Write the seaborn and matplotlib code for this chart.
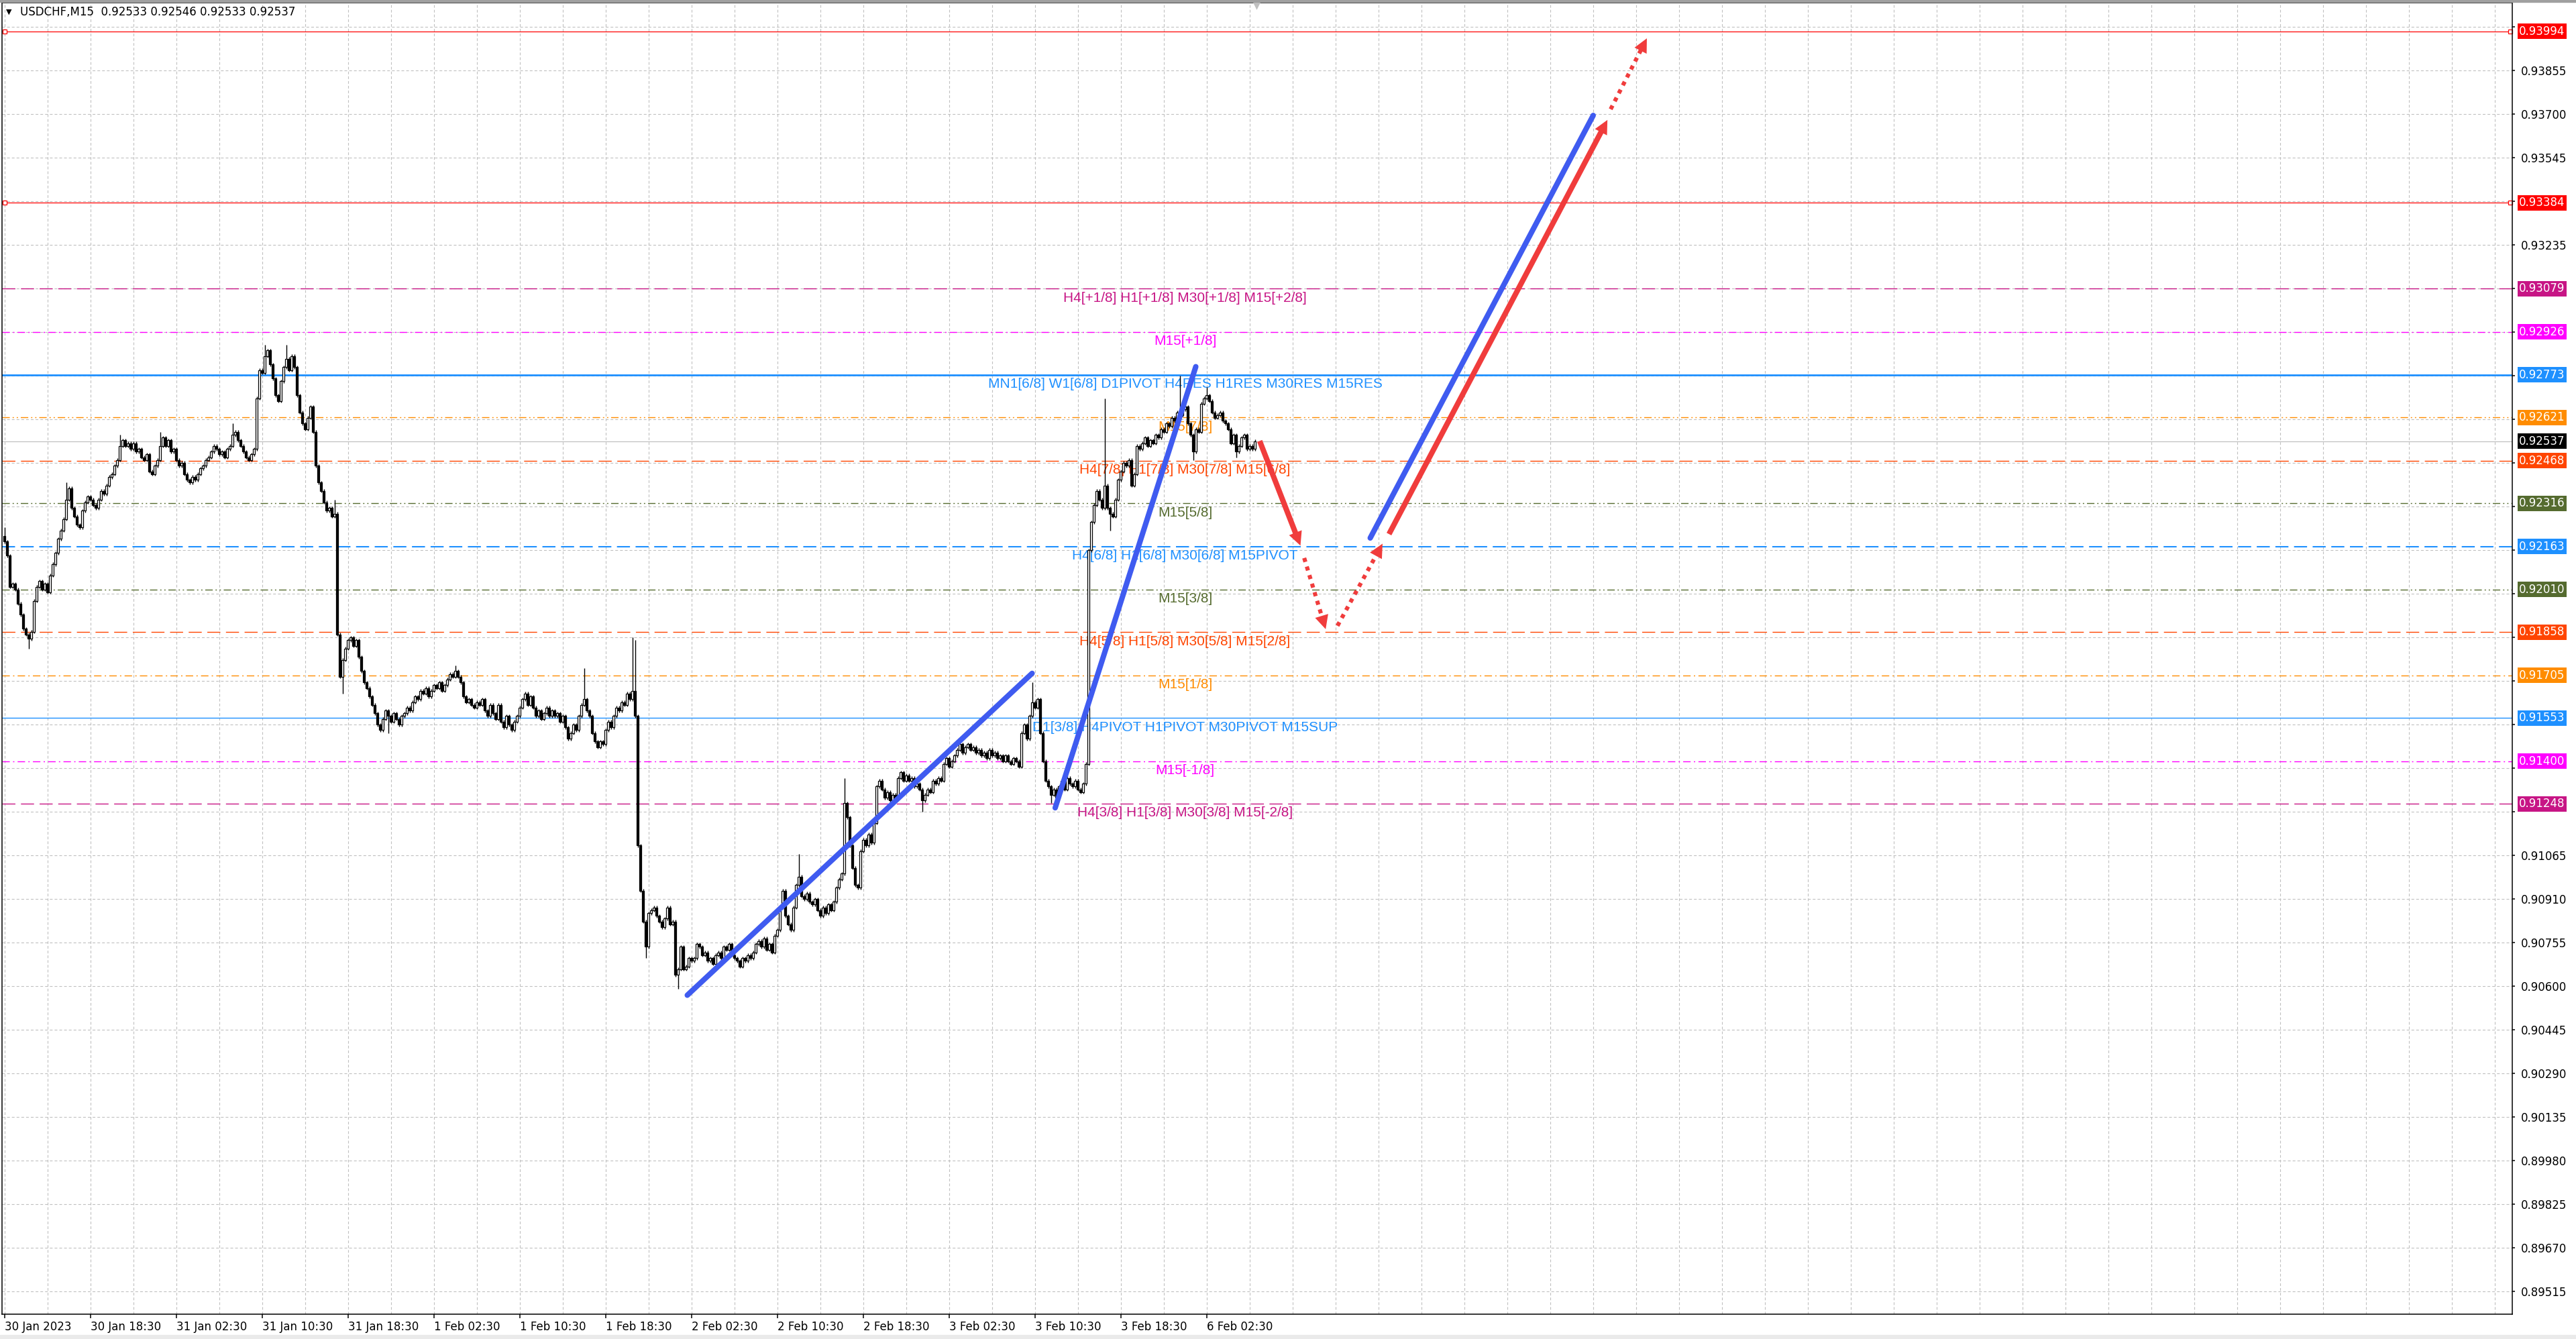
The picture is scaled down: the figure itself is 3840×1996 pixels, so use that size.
import numpy as np
import pandas as pd
import seaborn as sns
import matplotlib.pyplot as plt
import matplotlib.transforms as mtransforms
from matplotlib.patches import Rectangle

sns.set_theme(style="white")
plt.rcParams['font.family'] = ['DejaVu Sans']
plt.rcParams['lines.scale_dashes'] = False

# ---- data (USDCHF M15, bar 0 = 30 Jan 10:30) ----
closes = [
    0.92180, 0.92130, 0.92020, 0.92030, 0.92010, 0.91960, 0.91920, 0.91870, 0.91850, 0.91835, 0.91860, 0.91970, 0.92020, 0.92040, 0.92010, 0.92030,
    0.92000, 0.92060, 0.92100, 0.92140, 0.92190, 0.92220, 0.92260, 0.92330, 0.92370, 0.92300, 0.92270, 0.92240, 0.92230, 0.92290, 0.92320, 0.92340,
    0.92330, 0.92310, 0.92300, 0.92330, 0.92360, 0.92350, 0.92380, 0.92410, 0.92420, 0.92450, 0.92470, 0.92520, 0.92540, 0.92520, 0.92530, 0.92510,
    0.92530, 0.92500, 0.92510, 0.92480, 0.92470, 0.92490, 0.92430, 0.92420, 0.92450, 0.92470, 0.92520, 0.92550, 0.92520, 0.92540, 0.92500, 0.92510,
    0.92470, 0.92450, 0.92460, 0.92420, 0.92400, 0.92390, 0.92410, 0.92400, 0.92420, 0.92440, 0.92450, 0.92470, 0.92480, 0.92500, 0.92520, 0.92510,
    0.92490, 0.92500, 0.92480, 0.92510, 0.92520, 0.92560, 0.92570, 0.92540, 0.92520, 0.92500, 0.92480, 0.92470, 0.92490, 0.92510, 0.92690, 0.92790,
    0.92780, 0.92840, 0.92860, 0.92810, 0.92760, 0.92700, 0.92680, 0.92750, 0.92800, 0.92830, 0.92790, 0.92840, 0.92800, 0.92700, 0.92640, 0.92600,
    0.92580, 0.92620, 0.92660, 0.92570, 0.92450, 0.92390, 0.92360, 0.92320, 0.92290, 0.92300, 0.92270, 0.92280, 0.91850, 0.91700, 0.91760, 0.91800,
    0.91830, 0.91840, 0.91810, 0.91830, 0.91770, 0.91720, 0.91680, 0.91660, 0.91630, 0.91600, 0.91570, 0.91530, 0.91510, 0.91550, 0.91580, 0.91560,
    0.91540, 0.91570, 0.91550, 0.91530, 0.91560, 0.91570, 0.91590, 0.91580, 0.91610, 0.91630, 0.91620, 0.91650, 0.91640, 0.91660, 0.91630, 0.91650,
    0.91670, 0.91660, 0.91680, 0.91650, 0.91670, 0.91690, 0.91710, 0.91700, 0.91720, 0.91700, 0.91680, 0.91630, 0.91610, 0.91620, 0.91600, 0.91590,
    0.91610, 0.91600, 0.91620, 0.91580, 0.91560, 0.91600, 0.91570, 0.91550, 0.91600, 0.91540, 0.91520, 0.91560, 0.91530, 0.91510, 0.91540, 0.91560,
    0.91590, 0.91620, 0.91640, 0.91600, 0.91630, 0.91590, 0.91560, 0.91580, 0.91550, 0.91570, 0.91590, 0.91560, 0.91580, 0.91560, 0.91570, 0.91540,
    0.91560, 0.91520, 0.91480, 0.91500, 0.91530, 0.91510, 0.91560, 0.91600, 0.91620, 0.91580, 0.91560, 0.91500, 0.91470, 0.91450, 0.91470, 0.91460,
    0.91510, 0.91540, 0.91520, 0.91560, 0.91590, 0.91580, 0.91610, 0.91600, 0.91640, 0.91620, 0.91650, 0.91560, 0.91100, 0.90940, 0.90830, 0.90740,
    0.90860, 0.90870, 0.90880, 0.90850, 0.90830, 0.90810, 0.90840, 0.90880, 0.90820, 0.90830, 0.90640, 0.90660, 0.90740, 0.90660, 0.90670, 0.90700,
    0.90690, 0.90700, 0.90750, 0.90740, 0.90710, 0.90720, 0.90690, 0.90700, 0.90680, 0.90710, 0.90720, 0.90700, 0.90740, 0.90730, 0.90750, 0.90710,
    0.90700, 0.90690, 0.90670, 0.90700, 0.90690, 0.90710, 0.90700, 0.90720, 0.90750, 0.90760, 0.90740, 0.90770, 0.90730, 0.90750, 0.90720, 0.90780,
    0.90800, 0.90880, 0.90940, 0.90850, 0.90820, 0.90800, 0.90880, 0.90960, 0.90990, 0.90920, 0.90910, 0.90930, 0.90900, 0.90890, 0.90910, 0.90870,
    0.90850, 0.90880, 0.90860, 0.90890, 0.90870, 0.90900, 0.90950, 0.90980, 0.91000, 0.91250, 0.91200, 0.91100, 0.91020, 0.90960, 0.90950, 0.91080,
    0.91120, 0.91100, 0.91140, 0.91110, 0.91180, 0.91310, 0.91330, 0.91300, 0.91270, 0.91290, 0.91260, 0.91280, 0.91270, 0.91340, 0.91360, 0.91330,
    0.91350, 0.91330, 0.91340, 0.91310, 0.91320, 0.91300, 0.91260, 0.91280, 0.91300, 0.91290, 0.91330, 0.91320, 0.91340, 0.91330, 0.91390, 0.91410,
    0.91380, 0.91400, 0.91420, 0.91440, 0.91460, 0.91430, 0.91450, 0.91460, 0.91440, 0.91450, 0.91430, 0.91440, 0.91420, 0.91430, 0.91410, 0.91440,
    0.91420, 0.91430, 0.91410, 0.91420, 0.91400, 0.91420, 0.91400, 0.91390, 0.91410, 0.91400, 0.91380, 0.91500, 0.91530, 0.91480, 0.91560, 0.91610,
    0.91590, 0.91620, 0.91500, 0.91400, 0.91330, 0.91310, 0.91280, 0.91300, 0.91270, 0.91310, 0.91330, 0.91300, 0.91340, 0.91320, 0.91310, 0.91330,
    0.91300, 0.91290, 0.91320, 0.91390, 0.92150, 0.92250, 0.92310, 0.92360, 0.92330, 0.92300, 0.92380, 0.92300, 0.92280, 0.92270, 0.92330, 0.92400,
    0.92430, 0.92460, 0.92450, 0.92470, 0.92380, 0.92420, 0.92520, 0.92510, 0.92530, 0.92550, 0.92520, 0.92540, 0.92530, 0.92560, 0.92550, 0.92580,
    0.92570, 0.92600, 0.92590, 0.92620, 0.92610, 0.92640, 0.92630, 0.92650, 0.92660, 0.92600, 0.92560, 0.92500, 0.92580, 0.92570, 0.92670, 0.92690,
    0.92700, 0.92680, 0.92640, 0.92620, 0.92630, 0.92640, 0.92610, 0.92600, 0.92580, 0.92530, 0.92560, 0.92500, 0.92520, 0.92550, 0.92560, 0.92510,
    0.92520, 0.92510, 0.92537,
]
first_open = 0.92200
spike_hi = {0: 0.92230, 23: 0.92390, 43: 0.92560, 58: 0.92570, 85: 0.92600, 97: 0.92880,
            105: 0.92880, 123: 0.92330, 168: 0.91740, 216: 0.91730, 234: 0.91840,
            235: 0.91830, 296: 0.91070, 313: 0.91340, 383: 0.91680, 410: 0.92690,
            438: 0.92770, 448: 0.92730}
spike_lo = {9: 0.91800, 126: 0.91640, 143: 0.91500, 239: 0.90700, 251: 0.90590,
            342: 0.91220, 390: 0.91250, 412: 0.92220, 443: 0.92470, 459: 0.92480}

tick_bars = [0, 32, 64, 96, 128, 160, 192, 224, 256, 288, 320, 352, 384, 416, 448]
tick_labels = ["30 Jan 2023", "30 Jan 18:30", "31 Jan 02:30", "31 Jan 10:30", "31 Jan 18:30",
               "1 Feb 02:30", "1 Feb 10:30", "1 Feb 18:30", "2 Feb 02:30", "2 Feb 10:30",
               "2 Feb 18:30", "3 Feb 02:30", "3 Feb 10:30", "3 Feb 18:30", "6 Feb 02:30"]
price_ticks = [0.94010, 0.93855, 0.93700, 0.93545, 0.93390, 0.93235, 0.93080, 0.92925,
               0.92770, 0.92615, 0.92460, 0.92305, 0.92150, 0.91995, 0.91840, 0.91685,
               0.91530, 0.91375, 0.91220, 0.91065, 0.90910, 0.90755, 0.90600, 0.90445,
               0.90290, 0.90135, 0.89980, 0.89825, 0.89670, 0.89515]

level_prices = [0.93994, 0.93384, 0.93079, 0.92926, 0.92773, 0.92621, 0.92468, 0.92316,
                0.92163, 0.92010, 0.91858, 0.91705, 0.91553, 0.91400, 0.91248]
level_names = ["", "",
               "H4[+1/8] H1[+1/8] M30[+1/8] M15[+2/8]",
               "M15[+1/8]",
               "MN1[6/8] W1[6/8] D1PIVOT H4RES H1RES M30RES M15RES",
               "M15[7/8]",
               "H4[7/8] H1[7/8] M30[7/8] M15[6/8]",
               "M15[5/8]",
               "H4[6/8] H1[6/8] M30[6/8] M15PIVOT",
               "M15[3/8]",
               "H4[5/8] H1[5/8] M30[5/8] M15[2/8]",
               "M15[1/8]",
               "D1[3/8] H4PIVOT H1PIVOT M30PIVOT M15SUP",
               "M15[-1/8]",
               "H4[3/8] H1[3/8] M30[3/8] M15[-2/8]"]
current_price = 0.92537
header = "USDCHF,M15  0.92533 0.92546 0.92533 0.92537"

# drawn objects: (bar, price) end points
blue_lines = [([254.5, 383.0], [0.90568, 0.91712]),
              ([391.6, 444.0], [0.91234, 0.92802]),
              ([509.0, 592.1], [0.92193, 0.93695])]
red_solid = [([467.8, 483.0], [0.92538, 0.92166]),
             ([516.0, 597.4], [0.92207, 0.93679])]
red_dotted = [([484.4, 492.4], [0.92122, 0.91869]),
              ([496.8, 513.6], [0.91881, 0.92173]),
              ([598.6, 612.1], [0.93717, 0.93969])]

# ---- styles ----
RED = '#FF0000'
VIOLET = '#C71585'
MAGENTA = '#FF00FF'
DBLUE = '#1E90FF'
DORANGE = '#FF8C00'
ORED = '#FF4500'
OLIVE = '#556B2F'
DASH = (0, (14, 6))
DASHDOT = (0, (8, 3.5, 1.4, 3.5))
DASHDOTDOT = (0, (8, 3, 1.4, 3, 1.4, 3))
level_colors = [RED, RED, VIOLET, MAGENTA, DBLUE, DORANGE, ORED, OLIVE, DBLUE, OLIVE,
                ORED, DORANGE, DBLUE, MAGENTA, VIOLET]
level_styles = ['-', '-', DASH, DASHDOT, '-', DASHDOTDOT, DASH, DASHDOTDOT, DASH, DASHDOTDOT,
                DASH, DASHDOT, '-', DASHDOT, DASH]
level_widths = [0.9, 0.9, 1.0, 1.0, 2.0, 1.0, 1.0, 1.0, 1.5, 1.0, 1.0, 1.0, 1.0, 1.0, 1.0]
TREND_BLUE = '#3F5BF0'
TREND_RED = '#F03C3C'

W, H = 3840, 1996
fig = plt.figure(figsize=(W / 100, H / 100), dpi=100)
fig.patch.set_facecolor('white')
ax = fig.add_axes([3 / W, 1 - 1959 / H, (3745 - 3) / W, (1959 - 4) / H])
ax.set_facecolor('white')
ax.set_xlim(-0.875, 934.6)
ax.set_ylim(0.894343, 0.940957)

# grid
for gx in range(0, 935, 16):
    ax.axvline(gx, color='#C0C0C0', lw=0.8, ls=(0, (2.9, 2.2)), zorder=0.5)
for gy in price_ticks:
    ax.axhline(gy, color='#C0C0C0', lw=0.8, ls=(0, (2.9, 2.2)), zorder=0.5)

# levels
for p, c, s, w in zip(level_prices, level_colors, level_styles, level_widths):
    ax.axhline(p, color=c, ls=s, lw=w, zorder=1)
ax.axhline(current_price, color='#C0C0C0', lw=0.9, zorder=1)
for p in level_prices[:2]:
    ax.plot([0.2, 933.8], [p, p], ls='none', marker='s', ms=4, mfc='white', mec=RED,
            mew=0.9, zorder=1.2, clip_on=False)

label_bar = 440
for p, c, name in zip(level_prices, level_colors, level_names):
    if name:
        ax.annotate(name, xy=(label_bar, p), xytext=(0, -3), textcoords='offset points',
                    ha='center', va='top', color=c, fontsize=15,
                    family=['Liberation Sans', 'DejaVu Sans'], zorder=2)

# candles
df = pd.DataFrame({'close': closes})
df['open'] = df['close'].shift(1).fillna(first_open)
df['high'] = df[['open', 'close']].max(axis=1) + 0.00006
df['low'] = df[['open', 'close']].min(axis=1) - 0.00006
for i, v in spike_hi.items():
    df.loc[i, 'high'] = max(df.loc[i, 'high'], v)
for i, v in spike_lo.items():
    df.loc[i, 'low'] = min(df.loc[i, 'low'], v)
df['bar'] = np.arange(len(df))
bull = df['close'] >= df['open']
ax.vlines(df['bar'], df['low'], df['high'], color='black', lw=1.0, zorder=3)
body_lo = df[['open', 'close']].min(axis=1)
body_h = (df['close'] - df['open']).abs().clip(lower=0.000012)
ax.bar(df['bar'][bull], body_h[bull], bottom=body_lo[bull], width=0.78, color='white',
       edgecolor='black', linewidth=0.9, zorder=3.1)
ax.bar(df['bar'][~bull], body_h[~bull], bottom=body_lo[~bull], width=0.78, color='black',
       edgecolor='black', linewidth=0.9, zorder=3.1)

# trend lines / arrows
HEAD_PX = 20


def shaft_end(xs, ys, back_px):
    p0 = ax.transData.transform((xs[0], ys[0]))
    p1 = ax.transData.transform((xs[1], ys[1]))
    d = (p1 - p0) / np.hypot(*(p1 - p0))
    q = p1 - d * back_px
    return ax.transData.inverted().transform(q)


def head(xs, ys, color):
    ax.annotate('', xy=(xs[1], ys[1]), xytext=(xs[0], ys[0]),
                arrowprops=dict(arrowstyle='-|>,head_length=0.55,head_width=0.27',
                                color=color, lw=0, shrinkA=0, shrinkB=0,
                                mutation_scale=27), zorder=5)


for xs, ys in blue_lines:
    sns.lineplot(x=xs, y=ys, ax=ax, color=TREND_BLUE, linewidth=5.8,
                 solid_capstyle='round', sort=False, estimator=None, zorder=4)
for xs, ys in red_solid:
    e = shaft_end(xs, ys, HEAD_PX * 0.8)
    sns.lineplot(x=[xs[0], e[0]], y=[ys[0], e[1]], ax=ax, color=TREND_RED, linewidth=5.8,
                 solid_capstyle='butt', sort=False, estimator=None, zorder=4)
    head(xs, ys, TREND_RED)
for xs, ys in red_dotted:
    e = shaft_end(xs, ys, HEAD_PX * 0.9)
    sns.lineplot(x=[xs[0], e[0]], y=[ys[0], e[1]], ax=ax, color=TREND_RED, linewidth=4.4,
                 linestyle=(0, (4.4, 5.2)), dash_capstyle='butt', sort=False,
                 estimator=None, zorder=4)
    head(xs, ys, TREND_RED)

# axes
ax.set_xlabel('')
ax.set_ylabel('')
for sp in ax.spines.values():
    sp.set_visible(True)
    sp.set_color('black')
    sp.set_linewidth(1.1)
ax.set_xticks(tick_bars)
ax.set_xticklabels(tick_labels)
for lbl in ax.get_xticklabels():
    lbl.set_ha('left')

# price boxes sit on top of the scale; hide the scale labels they cover
box_prices = level_prices + [current_price]
box_colors = level_colors + ['black']
ax.yaxis.tick_right()
ax.set_yticks(price_ticks)
ax.set_yticklabels([f"{v:.5f}" if min(abs(v - b) for b in box_prices) > 0.00045 else ""
                    for v in price_ticks])
ax.tick_params(axis='x', direction='out', length=4, width=1.1, pad=3, labelsize=12,
               colors='black', bottom=True)
ax.tick_params(axis='y', direction='out', length=3, width=1.1, pad=6, labelsize=12,
               colors='black', right=True, left=False)
ax.grid(False)

trans = mtransforms.blended_transform_factory(ax.transAxes, ax.transData)
for p, c in zip(box_prices, box_colors):
    ax.text(1 + 10 / 3742, p, f"{p:.5f}", transform=trans, ha='left', va='center',
            color='white', fontsize=12, clip_on=False, zorder=6,
            bbox=dict(boxstyle='square,pad=0.15', fc=c, ec='none'))

# chart shift marker
ax.scatter([466.6], [1.0], marker='v', s=220, color='#C0C0C0',
           transform=mtransforms.blended_transform_factory(ax.transData, ax.transAxes),
           clip_on=False, zorder=6, linewidths=0)

# header
fig.text(9 / W, 1 - 18 / H, '\u25BC', fontsize=8, va='center', ha='left', color='black')
fig.text(30 / W, 1 - 18 / H, header, fontsize=12, va='center', ha='left', color='black')

fig.patches.append(Rectangle((0, 1 - 3 / H), 1, 3 / H, transform=fig.transFigure,
                             color='#A0A0A0', zorder=0))
fig.patches.append(Rectangle((0, 0), 1, 6 / H, transform=fig.transFigure,
                             color='#EAEAEA', zorder=0))

fig.savefig('out.png', dpi=100)
